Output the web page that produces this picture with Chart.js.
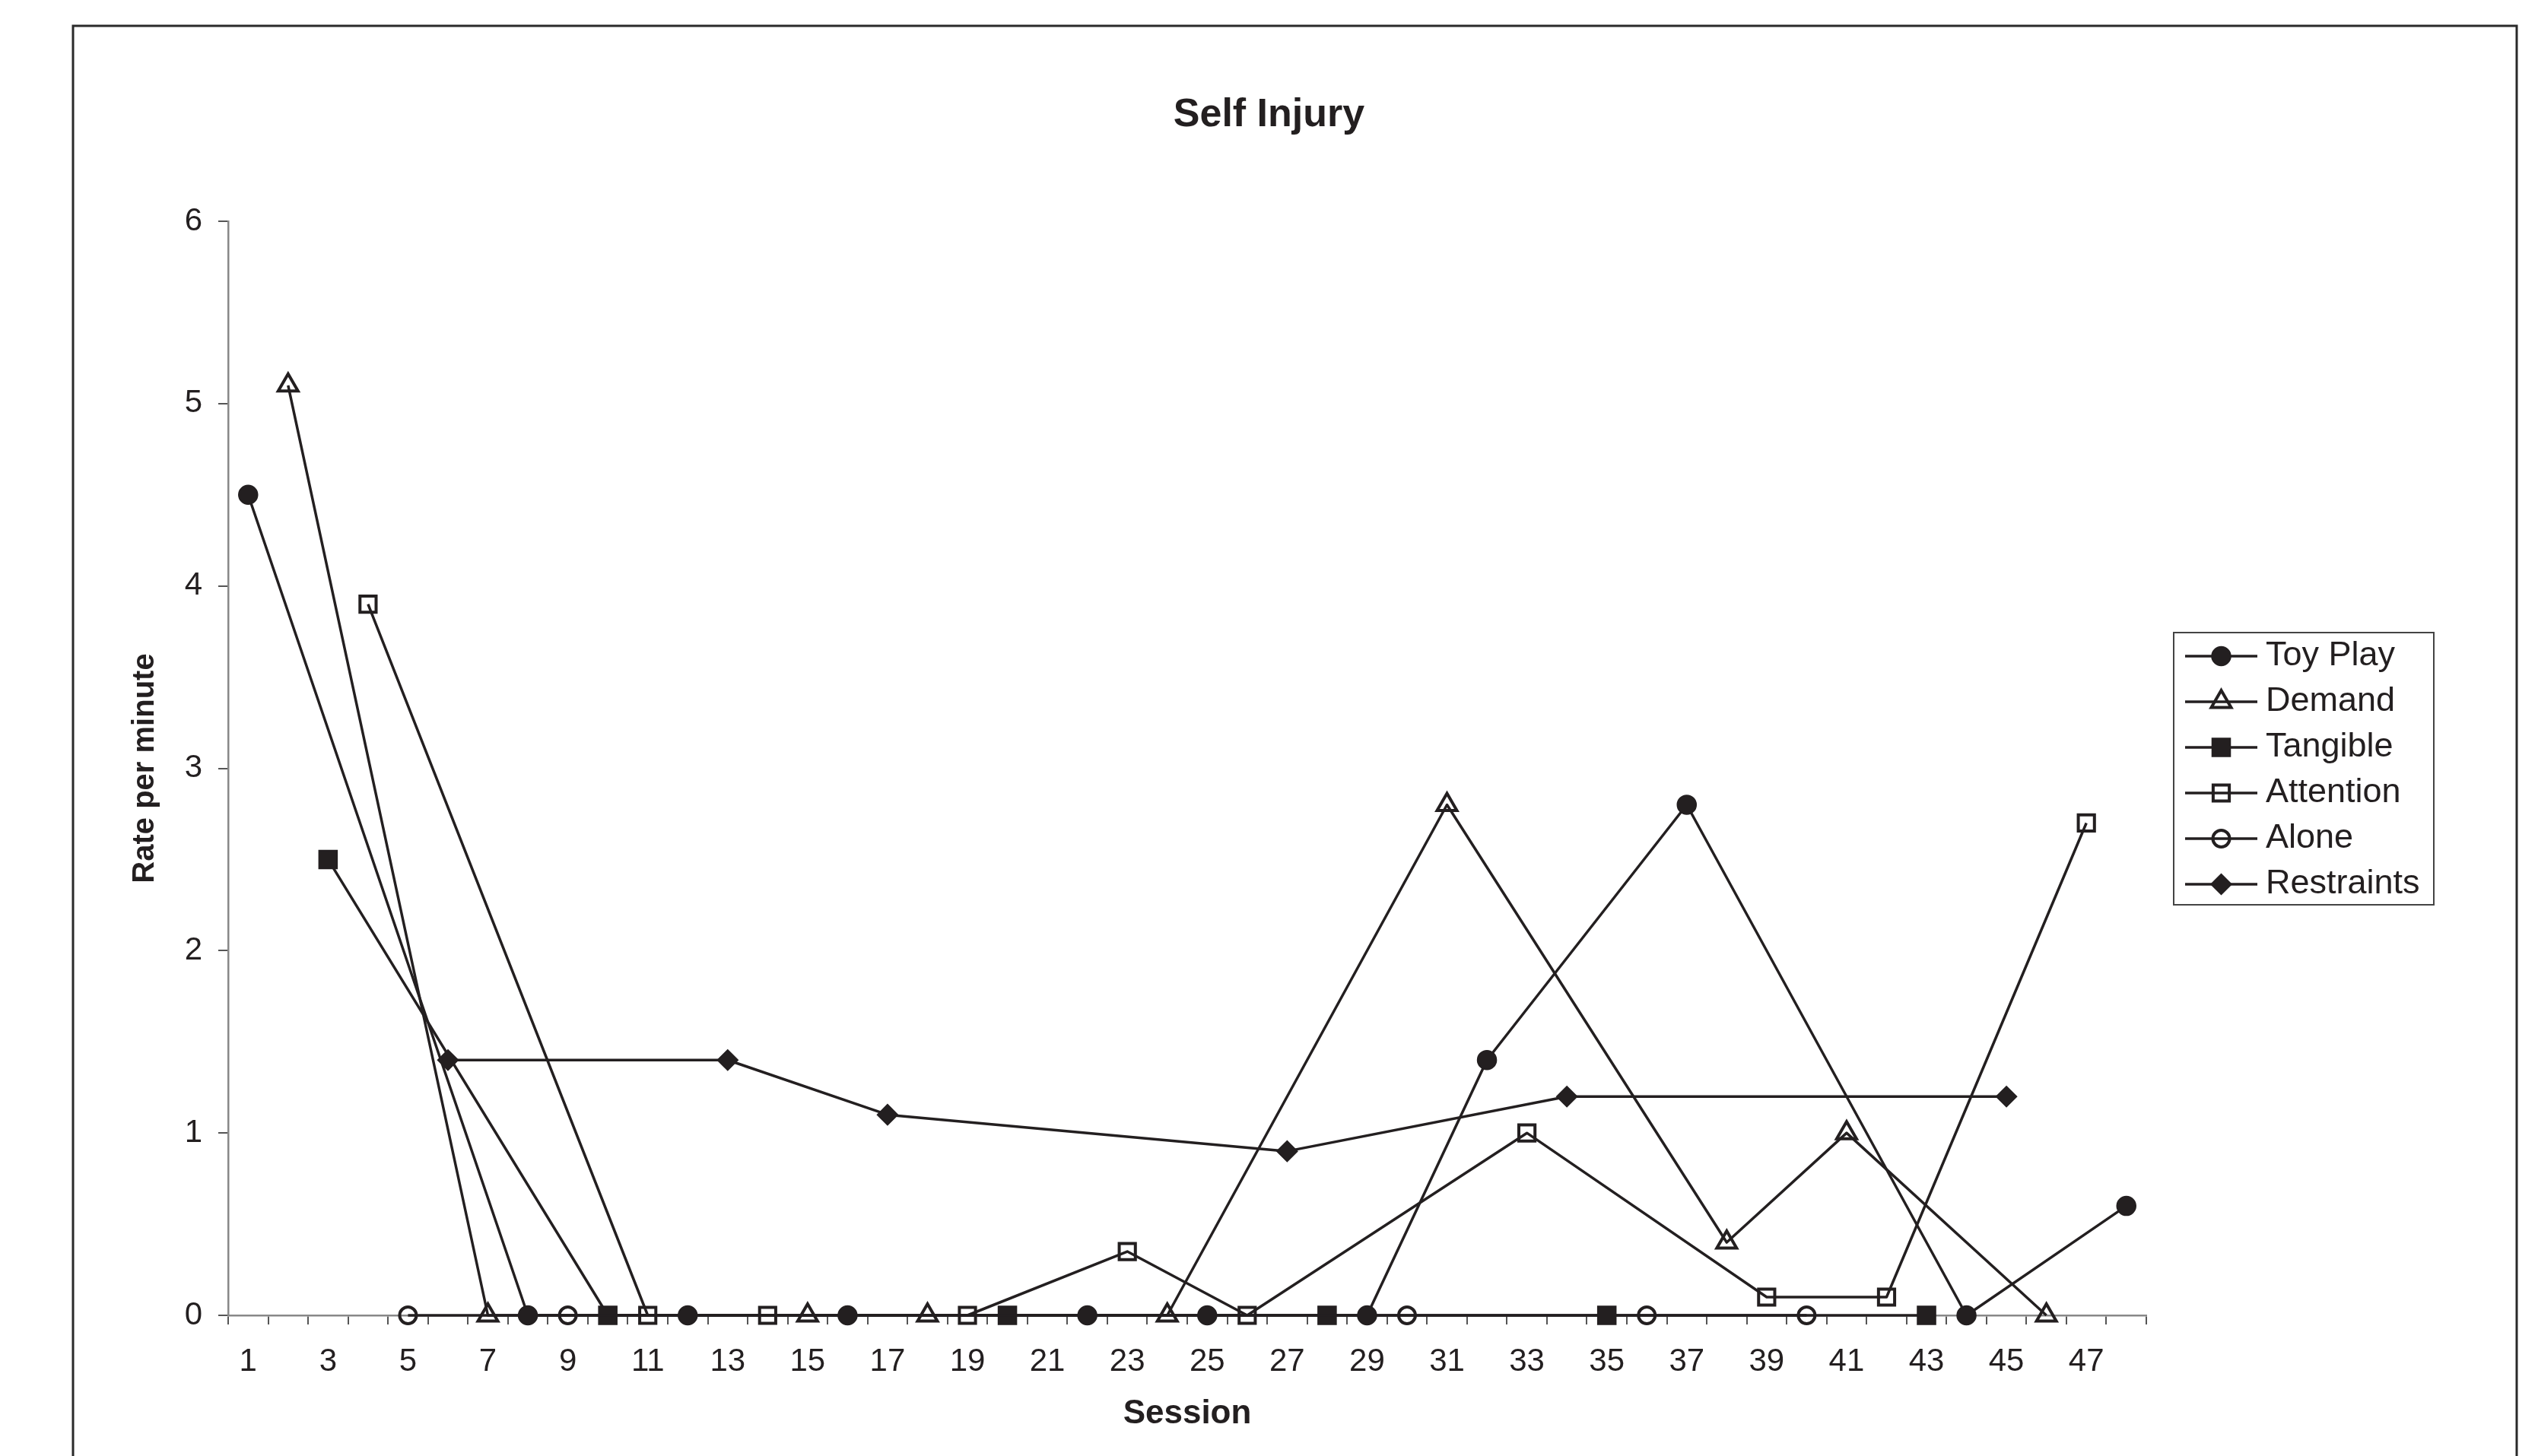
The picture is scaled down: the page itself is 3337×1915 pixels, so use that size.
<!DOCTYPE html>
<html>
<head>
<meta charset="utf-8">
<title>Self Injury</title>
<script src="https://cdn.jsdelivr.net/npm/chart.js@4.4.1/dist/chart.umd.min.js"></script>
<style>
  html, body { margin: 0; padding: 0; background: #fff; }
  canvas { display: block; }
</style>
</head>
<body>
<canvas id="chart" width="3337" height="1915"></canvas>
<script>
// ------------------- DATA -------------------

const sessionLabels = [
  1, 2, 3, 4, 5, 6, 7, 8, 9, 10, 11, 12, 13, 14, 15, 16,
  17, 18, 19, 20, 21, 22, 23, 24, 25, 26, 27, 28, 29, 30, 31, 32,
  33, 34, 35, 36, 37, 38, 39, 40, 41, 42, 43, 44, 45, 46, 47, 48
];
const shownTicks = [1, 3, 5, 7, 9, 11, 13, 15, 17, 19, 21, 23, 25, 27, 29, 31, 33, 35, 37, 39, 41, 43, 45, 47];
const rateTicks = [0, 1, 2, 3, 4, 5, 6];

const toyPlaySessions = [1, 8, 12, 16, 22, 25, 29, 32, 37, 44, 48];
const toyPlayRates    = [4.5, 0, 0, 0, 0, 0, 0, 1.4, 2.8, 0, 0.6];

const demandSessions = [2, 7, 15, 18, 24, 31, 38, 41, 46];
const demandRates    = [5.1, 0, 0, 0, 0, 2.8, 0.4, 1.0, 0];

const tangibleSessions = [3, 10, 20, 28, 35, 43];
const tangibleRates    = [2.5, 0, 0, 0, 0, 0];

const attentionSessions = [4, 11, 14, 19, 23, 26, 33, 39, 42, 47];
const attentionRates    = [3.9, 0, 0, 0, 0.35, 0, 1.0, 0.1, 0.1, 2.7];

const aloneSessions = [5, 9, 30, 36, 40];
const aloneRates    = [0, 0, 0, 0, 0];

const restraintsSessions = [6, 13, 17, 27, 34, 45];
const restraintsRates    = [1.4, 1.4, 1.1, 0.9, 1.2, 1.2];

// ------------------- HELPERS -------------------

const INK = '#231f20';
const FONT = "'Liberation Sans', Arial, sans-serif";

// spread (session, rate) pairs over the 48 session slots, null where no session
function toSeries(sessions, rates) {
  const out = sessionLabels.map(() => null);
  sessions.forEach((s, i) => {
    out[sessionLabels.indexOf(s)] = rates[i];
  });
  return out;
}

function makeDataset(label, sessions, rates, style, radius, filled) {
  return {
    label: label,
    data: toSeries(sessions, rates),
    borderColor: INK,
    borderWidth: 3.5,
    borderJoinStyle: 'round',
    tension: 0,
    spanGaps: true,
    clip: false,
    pointStyle: style,
    pointRadius: radius,
    pointBackgroundColor: filled ? INK : 'rgba(0,0,0,0)',
    pointBorderColor: INK,
    pointBorderWidth: filled ? 1.5 : 4
  };
}

// ------------------- PLUGINS -------------------

// white page + the outer frame of the figure
const framePlugin = {
  id: 'frame',
  beforeDraw(chart) {
    const ctx = chart.ctx;
    ctx.save();
    ctx.fillStyle = '#fff';
    ctx.fillRect(0, 0, chart.width, chart.height);
    ctx.strokeStyle = '#2a2a2a';
    ctx.lineWidth = 3;
    ctx.beginPath();
    ctx.moveTo(96, chart.height + 5);
    ctx.lineTo(96, 34);
    ctx.lineTo(3309, 34);
    ctx.lineTo(3309, chart.height + 5);
    ctx.stroke();
    ctx.restore();
  }
};

// boxed legend with line + marker samples, like the Excel one
const boxLegendPlugin = {
  id: 'boxLegend',
  afterDraw(chart, args, opts) {
    const ctx = chart.ctx;
    ctx.save();
    ctx.strokeStyle = '#444';
    ctx.lineWidth = 2;
    ctx.strokeRect(opts.x, opts.y, opts.w, opts.h);

    chart.data.datasets.forEach((ds, i) => {
      const y = opts.firstY + i * opts.rowGap;
      const mx = (opts.lineX0 + opts.lineX1) / 2;

      ctx.strokeStyle = INK;
      ctx.lineWidth = ds.borderWidth;
      ctx.beginPath();
      ctx.moveTo(opts.lineX0, y);
      ctx.lineTo(opts.lineX1, y);
      ctx.stroke();

      ctx.fillStyle = ds.pointBackgroundColor;
      ctx.strokeStyle = ds.pointBorderColor;
      ctx.lineWidth = ds.pointBorderWidth;
      Chart.helpers.drawPoint(ctx, {
        pointStyle: ds.pointStyle,
        radius: ds.pointRadius,
        borderWidth: ds.pointBorderWidth,
        rotation: 0
      }, mx, y);

      ctx.fillStyle = INK;
      ctx.font = opts.fontSize + 'px ' + FONT;
      ctx.textBaseline = 'middle';
      ctx.textAlign = 'left';
      ctx.fillText(ds.label, opts.textX, y);
    });
    ctx.restore();
  }
};

// ------------------- CHART -------------------

Chart.defaults.font.family = FONT;
Chart.defaults.color = INK;

new Chart(document.getElementById('chart'), {
  type: 'line',
  data: {
    labels: sessionLabels,
    datasets: [
      makeDataset('Toy Play', toyPlaySessions, toyPlayRates, 'circle', 12.5, true),
      makeDataset('Demand', demandSessions, demandRates, 'triangle', 15, false),
      makeDataset('Tangible', tangibleSessions, tangibleRates, 'rect', 17, true),
      makeDataset('Attention', attentionSessions, attentionRates, 'rect', 15, false),
      makeDataset('Alone', aloneSessions, aloneRates, 'circle', 11, false),
      makeDataset('Restraints', restraintsSessions, restraintsRates, 'rectRot', 13.5, true)
    ]
  },
  options: {
    responsive: false,
    animation: false,
    devicePixelRatio: 1,
    layout: { padding: 0 },
    scales: {
      x: {
        type: 'category',
        offset: true,
        grid: {
          offset: true,
          drawOnChartArea: false,
          drawTicks: true,
          tickLength: 12,
          color: '#555',
          lineWidth: 2
        },
        border: { display: true, color: '#888', width: 2.5 },
        ticks: {
          autoSkip: false,
          maxRotation: 0,
          padding: 24,
          font: { size: 42 },
          color: INK,
          callback: function (value, index) {
            const s = sessionLabels[index];
            return shownTicks.includes(s) ? String(s) : '';
          }
        },
        title: {
          display: true,
          text: 'Session',
          font: { size: 44, weight: 'bold' },
          color: INK,
          padding: { top: 0, bottom: 29 }
        },
        afterFit(scale) { scale.height = 185; }
      },
      y: {
        type: 'linear',
        position: 'left',
        min: rateTicks[0],
        max: rateTicks[rateTicks.length - 1],
        afterBuildTicks(scale) {
          scale.ticks = rateTicks.map(v => ({ value: v }));
        },
        grid: {
          drawOnChartArea: false,
          drawTicks: true,
          tickLength: 13,
          color: '#555',
          lineWidth: 2
        },
        border: { display: true, color: '#888', width: 2.5 },
        ticks: {
          padding: 21,
          font: { size: 42 },
          color: INK
        },
        title: {
          display: true,
          text: 'Rate per minute',
          font: { size: 40, weight: 'bold' },
          color: INK,
          padding: { top: 167, bottom: 0 }
        },
        afterFit(scale) { scale.width = 300; }
      },
      // empty right-hand space reserved for the legend
      legendSpace: {
        type: 'linear',
        position: 'right',
        display: true,
        grid: { display: false },
        border: { display: false },
        ticks: { display: false },
        afterFit(scale) { scale.width = 515; }
      }
    },
    plugins: {
      legend: { display: false },
      tooltip: { enabled: false },
      title: {
        display: true,
        text: 'Self Injury',
        font: { size: 52, weight: 'bold' },
        color: INK,
        padding: { top: 120, bottom: 108.6 }
      },
      boxLegend: {
        x: 2858, y: 832, w: 342, h: 358,
        firstY: 863, rowGap: 60,
        lineX0: 2873, lineX1: 2968,
        textX: 2979, fontSize: 45
      }
    }
  },
  plugins: [framePlugin, boxLegendPlugin]
});
</script>
</body>
</html>
